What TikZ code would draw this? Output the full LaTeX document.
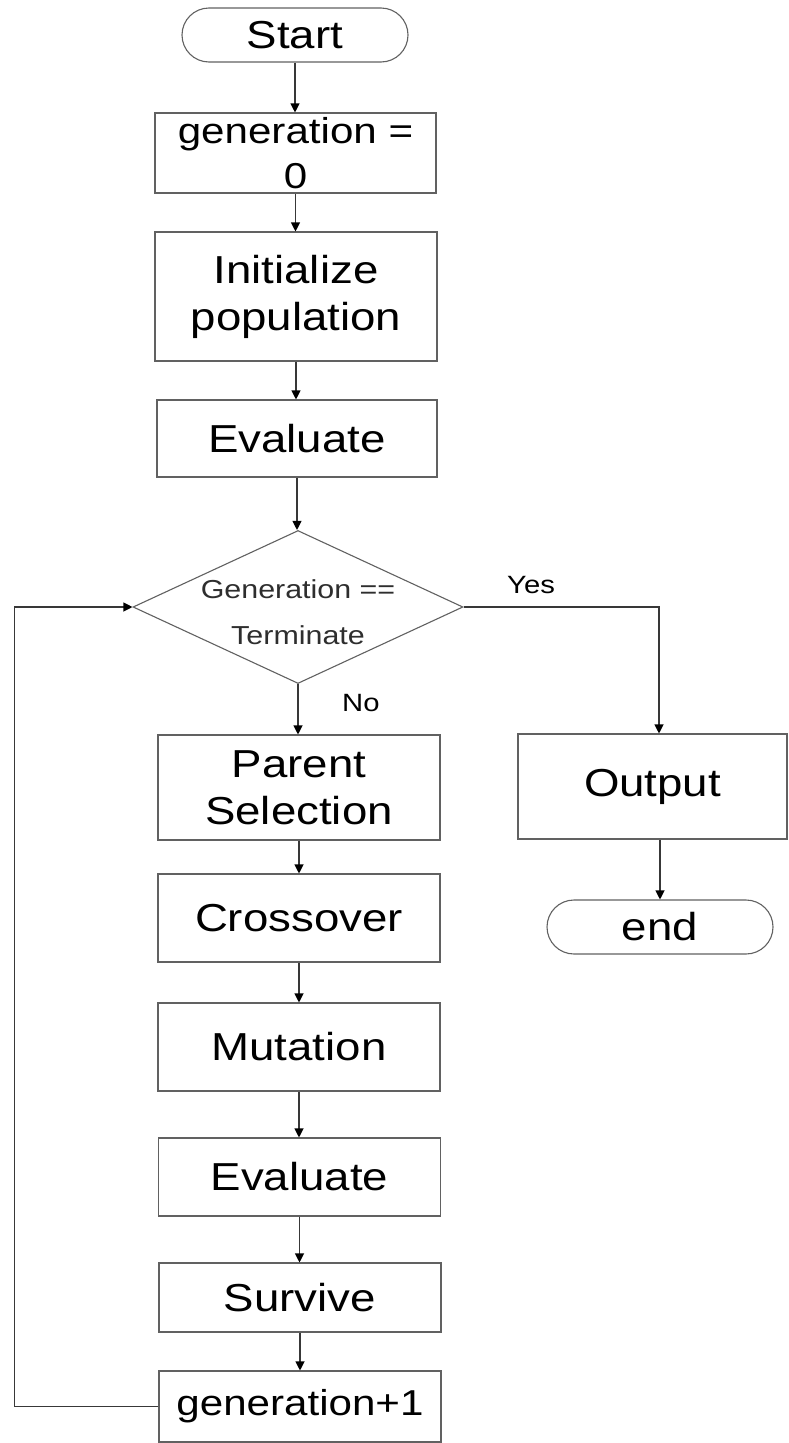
\documentclass[tikz,border=0pt]{standalone}
\usepackage{fontspec}
\setmainfont{Liberation Sans}[FakeStretch=1.17]
\usetikzlibrary{shapes.geometric,shapes.misc,arrows.meta}

\definecolor{linegray}{gray}{0.38}
\definecolor{wiregray}{gray}{0.22}
\definecolor{textgray}{gray}{0.18}

\begin{document}
\begin{tikzpicture}[x=1pt,y=-1pt,
  box/.style={draw=linegray, line width=1.1pt, rectangle, inner sep=0pt,
    align=center, font=\fontsize{39}{47}\selectfont, text=black},
  counter/.style={box, font=\fontsize{36}{45}\selectfont},
  term/.style={draw=linegray, line width=1.1pt, rounded rectangle,
    minimum width=226pt, minimum height=54pt, inner sep=0pt,
    font=\fontsize{39}{47}\selectfont, text=black},
  decide/.style={draw=linegray, line width=1.1pt, diamond, inner sep=0pt,
    minimum width=330pt, minimum height=153pt},
  decidetext/.style={align=center, inner sep=0pt,
    font=\fontsize{26}{46}\selectfont, text=textgray},
  flow/.style={draw=wiregray, line width=1.1pt,
    -{Triangle[length=9pt,width=9pt,color=black]}},
  small/.style={font=\fontsize{25}{29}\selectfont, text=black, inner sep=0pt}
]
\fill[white] (0,0) rectangle (788,1443);
\useasboundingbox (0,0) rectangle (788,1443);

% main column
\node[term] (start) at (295,35) {Start};
\node[counter, minimum width=281pt, minimum height=80pt] (g0) at (295.5,153) {generation =\\0};
\node[box, minimum width=282pt, minimum height=129pt] (init) at (296,296.5) {Initialize\\population};
\node[box, minimum width=280pt, minimum height=77pt] (eval1) at (297,438.5) {Evaluate};
\node[decide] (dec) at (298,607) {};
\node[decidetext] (dectext) at (298,612) {Generation ==\\Terminate};
\node[box, minimum width=282pt, minimum height=105pt] (parent) at (299,787.5) {Parent\\Selection};
\node[box, minimum width=282pt, minimum height=88pt] (cross) at (299,918) {Crossover};
\node[box, minimum width=282pt, minimum height=88pt] (mut) at (299,1047) {Mutation};
\node[box, minimum width=282pt, minimum height=78pt] (eval2) at (299.5,1177) {Evaluate};
\node[box, minimum width=282pt, minimum height=69pt] (surv) at (300,1297.5) {Survive};
\node[counter, minimum width=282pt, minimum height=71pt] (gp1) at (300,1406.5) {generation+1};

% exit branch
\node[box, minimum width=269pt, minimum height=105pt] (out) at (652.5,786.5) {Output};
\node[term] (end) at (660,927) {end};

% branch labels
\node[small, anchor=west] (yes) at (507,585) {Yes};
\node[small, anchor=west] (no) at (342,703) {No};

% connectors
\draw[flow] (start.south) -- (start.south |- g0.north);
\draw[flow] (g0.south) -- (g0.south |- init.north);
\draw[flow] (init.south) -- (init.south |- eval1.north);
\draw[flow] (eval1.south) -- (eval1.south |- dec.north);
\draw[flow] (dec.south) -- (dec.south |- parent.north);
\draw[flow] (parent.south) -- (parent.south |- cross.north);
\draw[flow] (cross.south) -- (cross.south |- mut.north);
\draw[flow] (mut.south) -- (mut.south |- eval2.north);
\draw[flow] (eval2.south) -- (eval2.south |- surv.north);
\draw[flow] (surv.south) -- (surv.south |- gp1.north);
\draw[flow] (gp1.west) -- ++(-144,0) |- (dec.west);
\draw[flow] (dec.east) -| ([xshift=6.5pt]out.north);
\draw[flow] (end.north |- out.south) -- (end.north);
\end{tikzpicture}
\end{document}
